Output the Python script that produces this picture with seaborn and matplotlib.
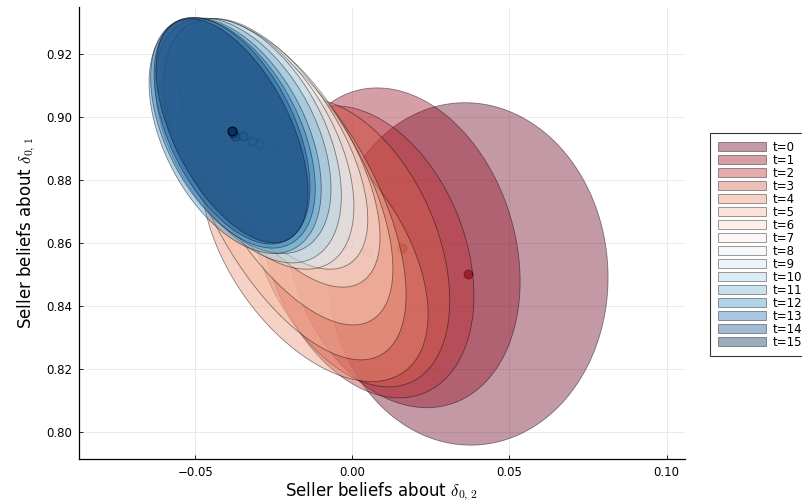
import numpy as np
import pandas as pd
import matplotlib
matplotlib.use("Agg")
import matplotlib.pyplot as plt
import matplotlib.patches as mpatches
import seaborn as sns

# Posterior beliefs of the seller at each period t
periods = list(range(16))
mean_d02 = [0.0368, 0.0158, 0.0047, -0.0014, -0.0119, -0.0189, -0.0205, -0.0224,
            -0.0253, -0.0297, -0.0319, -0.0348, -0.0373, -0.0380, -0.0383, -0.0383]
mean_d01 = [0.8501, 0.8584, 0.8571, 0.8600, 0.8587, 0.8746, 0.8809, 0.8879,
            0.8914, 0.8914, 0.8924, 0.8940, 0.8940, 0.8949, 0.8956, 0.8956]
sd_d02 = [0.0223, 0.0188, 0.0170, 0.0162, 0.0180, 0.0180, 0.0167, 0.0156,
          0.0151, 0.0151, 0.0142, 0.0140, 0.0137, 0.0131, 0.0124, 0.0121]
sd_d01 = [0.0272, 0.0254, 0.0232, 0.0229, 0.0214, 0.0259, 0.0235, 0.0210,
          0.0199, 0.0199, 0.0194, 0.0187, 0.0187, 0.0183, 0.0180, 0.0178]
corr = [-0.02, -0.21, -0.30, -0.40, -0.50, -0.60, -0.62, -0.62,
        -0.60, -0.50, -0.45, -0.45, -0.45, -0.48, -0.50, -0.55]
N_STD = 2.0

x_ticks = [-0.05, 0.00, 0.05, 0.10]
x_tick_labels = ["\u22120.05", "0.00", "0.05", "0.10"]
y_ticks = [0.80, 0.82, 0.84, 0.86, 0.88, 0.90, 0.92]
y_tick_labels = ["0.80", "0.82", "0.84", "0.86", "0.88", "0.90", "0.92"]

sns.set_theme(style="white")
plt.rcParams["font.family"] = ["DejaVu Sans"]
plt.rcParams["mathtext.fontset"] = "cm"
plt.rcParams["text.color"] = "black"
plt.rcParams["axes.labelcolor"] = "black"

rdbu = ["#67001f", "#b2182b", "#d6604d", "#f4a582", "#fddbc7", "#f7f7f7",
        "#d1e5f0", "#92c5de", "#4393c3", "#2166ac", "#053061"]
colors = sns.blend_palette(rdbu, len(periods))
FILL_ALPHA = 0.4

fig = plt.figure(figsize=(8.03, 5.03), dpi=100)
ax = fig.add_axes([0.0984, 0.0875, 0.7547, 0.8992])

df = pd.DataFrame({"t": periods, "x": mean_d02, "y": mean_d01})
theta = np.linspace(0, 2 * np.pi, 300)
for t in periods:
    a = N_STD * sd_d02[t]
    b = N_STD * sd_d01[t]
    r = corr[t]
    xs = mean_d02[t] + a * np.cos(theta)
    ys = mean_d01[t] + b * (r * np.cos(theta) + np.sqrt(1 - r * r) * np.sin(theta))
    ax.fill(xs, ys, facecolor=(*colors[t], FILL_ALPHA),
            edgecolor=(0, 0, 0, 0.45), linewidth=0.6, zorder=2 + 2 * t)
    sns.scatterplot(data=df[df["t"] == t], x="x", y="y", color=colors[t], s=40,
                    alpha=0.85, edgecolor="black", linewidth=0.7, legend=False,
                    ax=ax, zorder=3 + 2 * t)

ax.set_xlim(-0.0870, 0.1059)
ax.set_ylim(0.7913, 0.9350)
ax.set_xticks(x_ticks)
ax.set_xticklabels(x_tick_labels)
ax.set_yticks(y_ticks)
ax.set_yticklabels(y_tick_labels)
ax.grid(True, color="#e6e6e6", linewidth=0.6)
ax.set_axisbelow(True)
for side in ["top", "right"]:
    ax.spines[side].set_visible(False)
for side in ["left", "bottom"]:
    ax.spines[side].set_color("black")
    ax.spines[side].set_linewidth(0.9)
ax.tick_params(direction="in", length=3, width=0.6, colors="black",
               labelsize=8.5, pad=5, left=True, bottom=True)
ax.set_xlabel(r"Seller beliefs about $\delta_{0,\,2}$", fontsize=12, labelpad=1)
ax.set_ylabel(r"Seller beliefs about $\delta_{0,\,1}$", fontsize=12, labelpad=6)

handles = [mpatches.Patch(facecolor=(*colors[t], FILL_ALPHA),
                          edgecolor=(0, 0, 0, 0.45), linewidth=0.6,
                          label=f"t={t}") for t in periods]
leg = fig.legend(handles=handles, loc="upper left",
                 bbox_to_anchor=(710 / 803, 1 - 133 / 503),
                 frameon=True, fancybox=False, edgecolor="black",
                 fontsize=8.5, handlelength=4.1, handleheight=0.8,
                 labelspacing=0.0, handletextpad=0.55, borderpad=0.65,
                 borderaxespad=0)
leg.get_frame().set_linewidth(0.8)

fig.savefig("out.png", dpi=100)
